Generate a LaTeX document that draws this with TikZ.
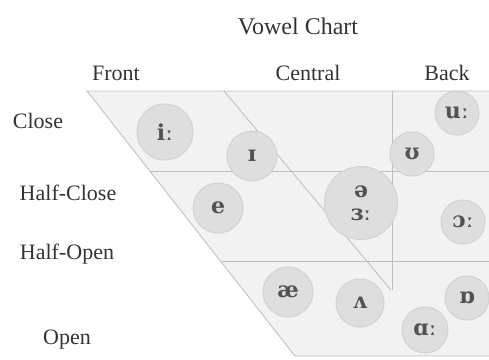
\documentclass[tikz,border=0pt]{standalone}
\usepackage{fontspec}
\setmainfont{Liberation Serif}
\newfontfamily\ipafont{DejaVu Serif}
\definecolor{chartfill}{HTML}{F2F2F2}
\definecolor{chartline}{HTML}{BDBDBD}
\definecolor{vfill}{HTML}{DEDEDE}
\definecolor{vline}{HTML}{D2D2D2}
\definecolor{txt}{HTML}{333333}
\begin{document}
\begin{tikzpicture}[x=1pt,y=-1pt,
  lab/.style={font=\fontsize{22}{22}\selectfont, text=txt, anchor=base, inner sep=0pt},
  vowel/.style={circle, fill=vfill, draw=vline, line width=1pt, inner sep=0pt,
    font=\ipafont\bfseries\fontsize{22}{22}\selectfont, text=txt!85!white},
  gridline/.style={draw=chartline, line width=0.8pt}]
\useasboundingbox (0,0) rectangle (489,359);
% chart frame
\coordinate (TL) at (87,91);
\coordinate (TR) at (492,91);
\coordinate (BL) at (295,356);
\coordinate (BR) at (492,356);
\coordinate (H1L) at (150,171);
\coordinate (H1R) at (492,171);
\coordinate (H2L) at (222,261);
\coordinate (H2R) at (492,261);
\coordinate (DT) at (224,91);
\coordinate (DB) at (391,290);
\coordinate (VT) at (392,91);
\coordinate (VB) at (392,290);
\fill[chartfill] (TL) -- (TR) -- (BR) -- (BL) -- cycle;
\draw[gridline] (TR) -- (TL) -- (BL) -- (BR);
\draw[gridline] (H1L) -- (H1R);
\draw[gridline] (H2L) -- (H2R);
\draw[gridline] (DT) -- (DB);
\draw[gridline] (VT) -- (VB);
% titles
\node[lab, font=\fontsize{24}{24}\selectfont] (title) at (298,34) {Vowel Chart};
\node[lab] (front) at (116,80) {Front};
\node[lab] (central) at (308,80) {Central};
\node[lab] (back) at (447,80) {Back};
\node[lab] (close) at (38,128) {Close};
\node[lab] (halfclose) at (68,200) {Half-Close};
\node[lab] (halfopen) at (67,259) {Half-Open};
\node[lab] (open) at (67,344) {Open};
% vowels
\node[vowel, minimum size=56pt] (iy) at (165,132) {iː};
\node[vowel, minimum size=50pt] (ih) at (252,156) {ɪ};
\node[vowel, minimum size=44pt] (uh) at (412,154) {ʊ};
\node[vowel, minimum size=44pt] (uw) at (457,113) {uː};
\node[vowel, minimum size=50pt] (eh) at (218,208) {e};
\node[vowel, minimum size=73pt, align=center] (schwa) at (361,203) {ə\\[1pt]ɜː};
\node[vowel, minimum size=44pt] (ao) at (463,222) {ɔː};
\node[vowel, minimum size=50pt] (ae) at (288,292) {æ};
\node[vowel, minimum size=48pt] (ah) at (360,303) {ʌ};
\node[vowel, minimum size=44pt] (oh) at (467,298) {ɒ};
\node[vowel, minimum size=46pt] (aa) at (425,330) {ɑː};
\end{tikzpicture}
\end{document}
